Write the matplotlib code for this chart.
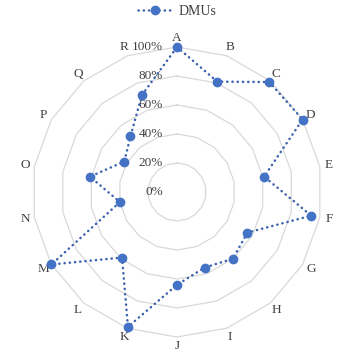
import matplotlib
matplotlib.use('Agg')
import matplotlib.pyplot as plt
import numpy as np

# data
CATS = ['A', 'B', 'C', 'D', 'E', 'F', 'G', 'H', 'I', 'J',
        'K', 'L', 'M', 'N', 'O', 'P', 'Q', 'R']
DMUS = [1.00, 0.81, 0.99, 1.00, 0.61, 0.94, 0.56, 0.60, 0.555, 0.64,
        0.99, 0.59, 1.00, 0.40, 0.61, 0.42, 0.50, 0.71]
RINGS = [0.0, 0.2, 0.4, 0.6, 0.8, 1.0]
RING_LBL = ['0%', '20%', '40%', '60%', '80%', '100%']

BLUE = '#4472C4'
LINE = '#3A62AE'
GRID = '#D9D9D9'
TXT = '#404040'
FONT = 'Liberation Serif'

plt.rcParams['font.family'] = FONT

fig = plt.figure(figsize=(3.47, 3.58), dpi=100)
ax = fig.add_axes([0.0922, 0.0587, 0.836, 0.81], projection='polar')
ax.set_theta_offset(np.pi / 2)
ax.set_theta_direction(-1)
ax.set_ylim(0, 1)
ax.axis('off')

n = len(CATS)
th = np.linspace(0, 2 * np.pi, n, endpoint=False)
th_c = np.append(th, th[0])

# polygon grid rings
for r in RINGS[1:]:
    ax.plot(th_c, [r] * (n + 1), color=GRID, lw=0.9, zorder=1, clip_on=False)

# ring labels (left of centre)
for r, lb in zip(RINGS, RING_LBL):
    ax.annotate(lb, xy=(0, r), xytext=(-10, 0), textcoords='offset points',
                ha='right', va='center', fontsize=9.5, color=TXT, zorder=2)

# category labels
for t, c in zip(th, CATS):
    ax.text(t, 1.065, c, ha='center', va='center', fontsize=9.5, color=TXT)

vals = np.append(DMUS, DMUS[0])
ax.plot(th_c, vals, color=LINE, lw=1.8, ls=(0, (0.1, 2.0)),
        dash_capstyle='round', zorder=3, clip_on=False)
ax.plot(th, DMUS, ls='none', marker='o', ms=6, mfc=BLUE, mec=BLUE,
        zorder=4, clip_on=False)

# legend handle
h, = ax.plot([], [], color=LINE, lw=1.8, ls=(0, (0.1, 2.0)),
             dash_capstyle='round', marker='o', ms=6, mfc=BLUE, mec=BLUE)
fig.legend([h], ['DMUs'], loc='upper center', bbox_to_anchor=(0.51, 1.02),
           frameon=False, fontsize=10, handlelength=2.4, handletextpad=0.5,
           labelcolor=TXT)

fig.savefig('out.png', dpi=100, facecolor='white')
plt.close()
